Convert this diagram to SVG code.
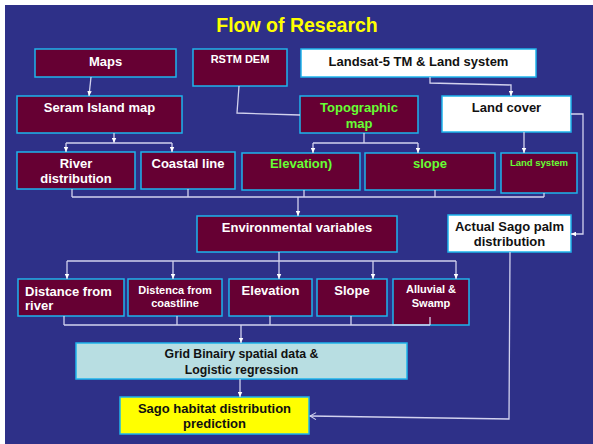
<svg xmlns="http://www.w3.org/2000/svg" width="593" height="444" viewBox="0 0 593 444">
<defs>
<style>
.bg{fill:#2E3088}
.bx{fill:#660033;stroke:#1EB4EC;stroke-width:1.5}
.wb{fill:#FFFFFF;stroke:#1EB4EC;stroke-width:1.5}
.gb{fill:#B8DEE2;stroke:#1EB4EC;stroke-width:1.5}
.yb{fill:#FFFF00;stroke:#1EB4EC;stroke-width:1.5}
text{font-family:"Liberation Sans",Arial,sans-serif;font-weight:bold;text-anchor:middle}
.w{fill:#FFFFFF;font-size:13px}
.k{fill:#111111;font-size:13px}
.g{fill:#66FF33;font-size:13px}
.s{font-size:11px}
.c{fill:none;stroke:#D2D2EE;stroke-width:1.3}
</style>
<marker id="a" viewBox="0 0 6 6" refX="6" refY="3" markerWidth="5" markerHeight="5" markerUnits="userSpaceOnUse" orient="auto"><path d="M0,0.3 L6,3 L0,5.7 z" fill="#FFFFFF"/></marker>
<marker id="o" viewBox="0 0 8 8" refX="7" refY="4" markerWidth="8" markerHeight="8" markerUnits="userSpaceOnUse" orient="auto"><path d="M1,0.5 L7,4 L1,7.5" fill="none" stroke="#D2D2EE" stroke-width="1"/></marker>
</defs>
<rect x="0" y="0" width="593" height="444" fill="#FFFFFF"/>
<rect class="bg" x="5" y="5" width="588" height="439"/>
<text x="297" y="32" style="font-size:19.5px;fill:#FFFF00">Flow of Research</text>

<g id="maps"><rect class="bx" x="35" y="49" width="141" height="28"/><text class="w" x="105.5" y="66">Maps</text></g>
<g id="rstm"><rect class="bx" x="193" y="49" width="94" height="37"/><text class="w s" x="240" y="63">RSTM DEM</text></g>
<g id="landsat"><rect class="wb" x="301" y="49" width="235" height="28"/><text class="k" x="418.5" y="66">Landsat-5 TM &amp; Land system</text></g>
<g id="seram"><rect class="bx" x="17" y="96" width="165" height="37"/><text class="w" x="99.5" y="112">Seram Island map</text></g>
<g id="topo"><rect class="bx" x="300" y="96" width="118" height="37"/><text class="g" x="359" y="112">Topographic</text><text class="g" x="359" y="128">map</text></g>
<g id="landcover"><rect class="wb" x="442" y="96" width="129" height="36"/><text class="k" x="506.5" y="112">Land cover</text></g>
<g id="river"><rect class="bx" x="17" y="152" width="118" height="37"/><text class="w" x="76" y="168">River</text><text class="w" x="76" y="183">distribution</text></g>
<g id="coastal"><rect class="bx" x="141" y="152" width="94" height="37"/><text class="w" x="188" y="168">Coastal line</text></g>
<g id="elev1"><rect class="bx" x="242" y="153" width="118" height="37"/><text class="g" x="301" y="168">Elevation)</text></g>
<g id="slope1"><rect class="bx" x="365" y="153" width="130" height="37"/><text class="g" x="430" y="168">slope</text></g>
<g id="landsystem"><rect class="bx" x="501" y="153" width="76" height="40"/><text class="g" x="539" y="166" style="font-size:9.5px">Land system</text></g>
<g id="env"><rect class="bx" x="197" y="216" width="200" height="36"/><text class="w" x="297" y="232">Environmental variables</text></g>
<g id="actual"><rect class="wb" x="448" y="215" width="123" height="37"/><text class="k" x="509.5" y="231">Actual Sago palm</text><text class="k" x="509.5" y="246">distribution</text></g>
<g id="distriver"><rect class="bx" x="18" y="279" width="106" height="37"/><text class="w" x="25" y="296" style="text-anchor:start">Distance from</text><text class="w" x="25" y="310" style="text-anchor:start">river</text></g>
<g id="distcoast"><rect class="bx" x="128" y="279" width="94" height="37"/><text class="w s" x="175" y="294">Distenca from</text><text class="w s" x="175" y="307">coastline</text></g>
<g id="elev2"><rect class="bx" x="229" y="279" width="83" height="37"/><text class="w" x="270.5" y="295">Elevation</text></g>
<g id="slope2"><rect class="bx" x="317" y="279" width="70" height="37"/><text class="w" x="352" y="295">Slope</text></g>
<g id="alluvial"><rect class="bx" x="393" y="279" width="76" height="46"/><text class="w s" x="431" y="293">Alluvial &amp;</text><text class="w s" x="431" y="307">Swamp</text></g>
<g id="grid"><rect class="gb" x="76" y="343" width="331" height="36"/><text class="k" x="241.5" y="358" style="font-size:12.3px">Grid Binairy spatial data &amp;</text><text class="k" x="241.5" y="374" style="font-size:12.3px">Logistic regression</text></g>
<g id="sago"><rect class="yb" x="120" y="397" width="189" height="37"/><text class="k" x="214.5" y="413">Sago habitat distribution</text><text class="k" x="214.5" y="428">prediction</text></g>

<g id="connectors">
<path class="c" d="M91,77 L89,96" marker-end="url(#a)"/>
<path class="c" d="M114,133 V143" marker-end="url(#a)"/>
<path class="c" d="M66,143 H172"/>
<path class="c" d="M66,143 V152" marker-end="url(#a)"/>
<path class="c" d="M172,143 V152" marker-end="url(#a)"/>
<path class="c" d="M239,86 L237,113 L300,115"/>
<path class="c" d="M430,77 V83 L511,85 V96" marker-end="url(#a)"/>
<path class="c" d="M364,133 V143 M313,143 H418"/>
<path class="c" d="M313,143 V153" marker-end="url(#a)"/>
<path class="c" d="M418,143 V153" marker-end="url(#a)"/>
<path class="c" d="M524,132 V153" marker-end="url(#a)"/>
<path class="c" d="M571,114 H583 V234 H571" marker-end="url(#a)"/>
<path class="c" d="M72,189 V197 M188,189 V197 M304,190 V197 M435,190 V197 M544,193 V197 M72,197 H544"/>
<path class="c" d="M298,197 V216" marker-end="url(#a)"/>
<path class="c" d="M67,261 H456"/>
<path class="c" d="M279,252 V279" marker-end="url(#a)"/>
<path class="c" d="M67,261 V279" marker-end="url(#a)"/>
<path class="c" d="M173,261 V279" marker-end="url(#a)"/>
<path class="c" d="M373,261 V279" marker-end="url(#a)"/>
<path class="c" d="M456,261 V279" marker-end="url(#a)"/>
<path class="c" d="M64,316 V325 M177,316 V325 M270,316 V325 M351,316 V325 M430,317 V325 M64,325 H430"/>
<path class="c" d="M241,325 V343" marker-end="url(#a)"/>
<path class="c" d="M240,379 V397" marker-end="url(#a)"/>
<path class="c" d="M510,252 L509,419 L310,416" marker-end="url(#o)"/>
</g>
</svg>
